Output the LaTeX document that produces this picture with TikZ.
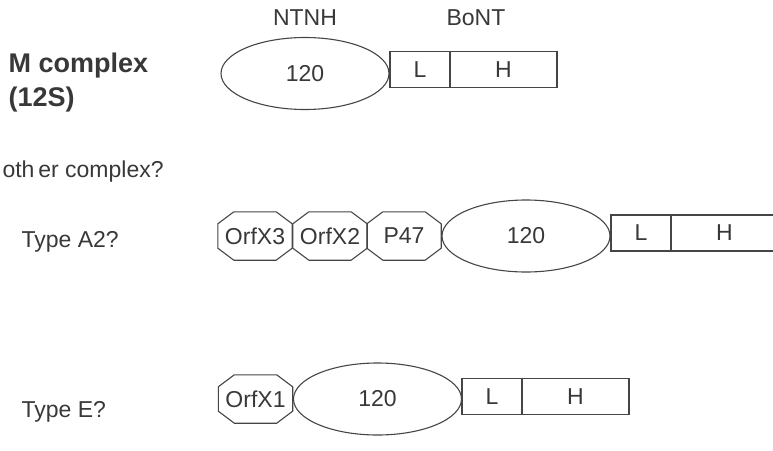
\documentclass[tikz,border=0pt]{standalone}
\usepackage{fontspec}
\setmainfont{Liberation Sans}
\usetikzlibrary{shapes.geometric}
\definecolor{ink}{rgb}{0.22,0.22,0.22}
\definecolor{edge}{rgb}{0.27,0.27,0.27}
\begin{document}
\begin{tikzpicture}[x=1pt,y=-1pt,
  every node/.style={text=ink,font=\fontsize{23}{26}\selectfont},
  outline/.style={draw=edge,line width=1.1pt},
  ntnh/.style={outline,ellipse,inner sep=0pt,
    minimum width=168pt,minimum height=72pt},
  lchain/.style={outline,rectangle,inner sep=0pt,
    minimum width=60pt,minimum height=36pt},
  hchain/.style={outline,rectangle,inner sep=0pt,
    minimum width=107pt,minimum height=36pt},
  ornode/.style={rectangle,inner sep=0pt,minimum width=74pt,minimum height=48pt},
  heading/.style={font=\bfseries\fontsize{27}{30}\selectfont,anchor=base west}]
\useasboundingbox (0,0) rectangle (773,450);
\clip (0,0) rectangle (773,450);

% labels
\node (ntnhlab) at (305,18) {NTNH};
\node (bontlab) at (476,18) {BoNT};
\node[heading] (mc) at (5,72) {M complex};
\node[heading] (s12) at (5,106) {(12S)};
\node[anchor=base west] (other) at (-1,177) {oth\,er complex?};
\node[anchor=base west] (ta2) at (18,247) {Type A2?};
\node[anchor=base west] (te) at (18,417) {Type E?};

% M complex (12S)
\node[ntnh] (e1) at (305,73.5) {120};
\node[lchain] (l1) at (420,69.5) {L};
\node[hchain] (h1) at (503.5,69.5) {H};

% type A2
\node[ornode] (x3) at (255,236) {OrfX3};
\node[ornode] (x2) at (330,236) {OrfX2};
\node[ornode] (p47) at (404,236) {P47};
\node[ntnh] (e2) at (526,236) {120};
\node[lchain] (l2) at (641,233) {L};
\node[hchain] (h2) at (724.5,233) {H};

% type E
\node[ornode] (x1) at (255.5,399) {OrfX1};
\node[ntnh] (e3) at (377.5,399) {120};
\node[lchain] (l3) at (492,396.5) {L};
\node[hchain] (h3) at (575.5,396.5) {H};

% octagonal outlines of the accessory proteins
\foreach \n in {x3,x2,p47,x1}
  \draw[outline,line join=miter]
    ([xshift=16pt]\n.north west) -- ([xshift=-16pt]\n.north east)
    -- ([yshift=-12pt]\n.north east) -- ([yshift=12pt]\n.south east)
    -- ([xshift=-16pt]\n.south east) -- ([xshift=16pt]\n.south west)
    -- ([yshift=12pt]\n.south west) -- ([yshift=-12pt]\n.north west) -- cycle;
\end{tikzpicture}
\end{document}
